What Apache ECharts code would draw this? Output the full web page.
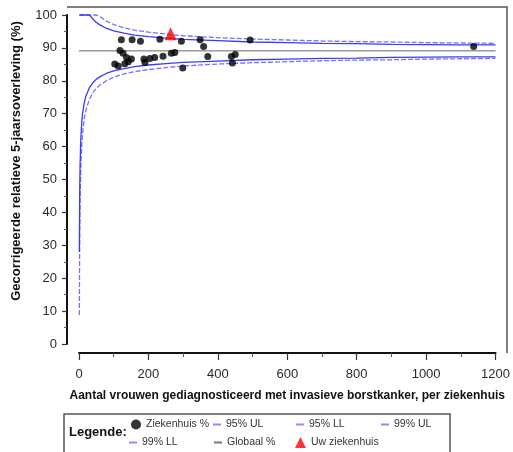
<!DOCTYPE html>
<html>
<head>
<meta charset="utf-8">
<script src="https://cdn.jsdelivr.net/npm/echarts@6/dist/echarts.min.js"></script>
<style>
html,body{margin:0;padding:0;background:#fff;}
#c{width:513px;height:452px;}
</style>
</head>
<body>
<div id="c"></div>
<script>
// ---- data ----
const xRange = [0, 1200];
const xStep = 200;
const yRange = [0, 100];
const yStep = 10;

const limitN = [1,2,3,5,8,10,15,20,30,40,50,60,80,100,130,160,200,250,300,400,500,600,700,800,900,1000,1100,1200];
const ul95 = [100,100,100,100,100,100,100,100,100,98.8,97.7,97.0,95.9,95.2,94.5,93.9,93.4,93.0,92.6,92.2,91.8,91.6,91.4,91.3,91.1,91.0,90.9,90.9];
const ul99 = [100,100,100,100,100,100,100,100,100,100,100,99.5,98.1,97.1,96.1,95.4,94.8,94.2,93.7,93.1,92.7,92.4,92.1,91.9,91.8,91.6,91.5,91.4];
const ll95 = [28.0,45.9,53.8,61.8,67.5,69.8,73.3,75.4,77.9,79.4,80.5,81.2,82.3,83.0,83.7,84.3,84.8,85.2,85.6,86.0,86.4,86.6,86.8,86.9,87.1,87.2,87.3,87.3];
const ll99 = [8.8,32.4,42.8,53.2,60.7,63.7,68.4,71.1,74.4,76.4,77.7,78.7,80.1,81.1,82.1,82.8,83.4,84.0,84.5,85.1,85.5,85.8,86.1,86.3,86.4,86.6,86.7,86.8];

const globalN = [0, 1200];
const globalV = [89.1, 89.1];

const hospN = [103,113,118,122,127,132,137,142,151,153,177,187,190,204,218,233,242,266,276,295,299,349,359,371,439,450,442,493,1137];
const hospV = [85.1,84.5,89.2,92.5,88.4,85.2,87.1,85.8,86.6,92.5,92.0,86.6,85.6,86.8,87.1,92.6,87.5,88.4,88.6,92.0,83.9,92.5,90.4,87.4,87.4,88.0,85.4,92.4,90.4];

const ownN = [264];
const ownV = [94.3];

// ---- build ----
const zip = (a, b) => a.map((v, i) => [v, b[i]]);
const FONT = 'Liberation Sans, Arial, sans-serif';
const blue95 = '#3a3aff';
const blue99 = '#7272ff';

const chart = echarts.init(document.getElementById('c'), null, {renderer: 'canvas'});

function lineSeries(name, data, color, type, width) {
  return {
    name, type: 'line', data, showSymbol: false, symbol: 'none', silent: true, clip: false,
    lineStyle: {color, type, width}, itemStyle: {color}, animation: false, z: 2
  };
}

function legendAt(name, left, top, icon, color, w, h) {
  return {
    data: [{name, icon, itemStyle: {color}}],
    left, top, padding: 0, itemWidth: w, itemHeight: h,
    textStyle: {fontFamily: FONT, fontSize: 10.5, color: '#333'},
    selectedMode: false
  };
}

const option = {
  backgroundColor: '#fff',
  animation: false,
  grid: {left: 79, top: 15, right: 16, bottom: 108, show: false, containLabel: false},
  xAxis: {
    type: 'value', min: xRange[0], max: xRange[1], interval: xStep, offset: 9,
    axisLine: {show: true, onZero: false, lineStyle: {color: '#111', width: 2}},
    axisTick: {show: true, length: 7, lineStyle: {color: '#333', width: 1.2}},
    minorTick: {show: true, splitNumber: 2, length: 4, lineStyle: {color: '#555', width: 1}},
    axisLabel: {margin: 15, fontFamily: FONT, fontSize: 13, color: '#2a2a2a', formatter: v => String(v)},
    splitLine: {show: false},
    name: 'Aantal vrouwen gediagnosticeerd met invasieve borstkanker, per ziekenhuis',
    nameLocation: 'middle', nameGap: 37,
    nameTextStyle: {fontFamily: FONT, fontSize: 12, fontWeight: 'bold', color: '#111'}
  },
  yAxis: {
    type: 'value', min: yRange[0], max: yRange[1], interval: yStep, offset: 12,
    axisLine: {show: true, onZero: false, lineStyle: {color: '#111', width: 2}},
    axisTick: {show: true, length: 5, lineStyle: {color: '#333', width: 1.2}},
    minorTick: {show: true, splitNumber: 2, length: 3, lineStyle: {color: '#555', width: 1}},
    axisLabel: {margin: 10, fontFamily: FONT, fontSize: 13, color: '#2a2a2a'},
    splitLine: {show: false}
  },
  legend: [
    legendAt('Ziekenhuis %', 131, 419, 'circle', '#000', 10, 10),
    legendAt('95% UL', 213, 419, 'rect', '#8c8cff', 8, 2),
    legendAt('95% LL', 296, 419, 'rect', '#8c8cff', 8, 2),
    legendAt('99% UL', 381, 419, 'rect', '#8c8cff', 8, 2),
    legendAt('99% LL', 129, 437, 'rect', '#8c8cff', 8, 2),
    legendAt('Globaal %', 214, 437, 'rect', '#777', 8, 2),
    legendAt('Uw ziekenhuis', 295, 437, 'triangle', '#ff0000', 11, 11)
  ],
  graphic: [
    {type: 'polyline', shape: {points: [[67, 7], [507, 7], [507, 353]]}, style: {fill: 'none', stroke: '#555', lineWidth: 1.5}, silent: true, z: -1},
    {type: 'rect', shape: {x: 64, y: 414, width: 386, height: 42}, style: {fill: 'none', stroke: '#555', lineWidth: 1.5}, silent: true},
    {type: 'text', x: 69, y: 432, style: {text: 'Legende:', fontFamily: FONT, fontSize: 13, fontWeight: 'bold', fill: '#111', textVerticalAlign: 'middle', textAlign: 'left'}, silent: true},
    {type: 'text', x: 16, y: 161, rotation: Math.PI / 2, style: {text: 'Gecorrigeerde relatieve 5-jaarsoverleving (%)', fontFamily: FONT, fontSize: 13, fontWeight: 'bold', fill: '#111', textAlign: 'center', textVerticalAlign: 'middle'}, silent: true}
  ],
  series: [
    lineSeries('99% UL', zip(limitN, ul99), blue99, [5, 2], 1.3),
    lineSeries('99% LL', zip(limitN, ll99), blue99, [5, 2], 1.3),
    lineSeries('95% UL', zip(limitN, ul95), blue95, 'solid', 1.3),
    lineSeries('95% LL', zip(limitN, ll95), blue95, 'solid', 1.3),
    lineSeries('Globaal %', zip(globalN, globalV), '#666', 'solid', 1),
    {
      name: 'Ziekenhuis %', type: 'scatter', data: zip(hospN, hospV),
      symbol: 'circle', symbolSize: 7, itemStyle: {color: '#000'}, z: 3
    },
    {
      name: 'Uw ziekenhuis', type: 'scatter', data: zip(ownN, ownV),
      symbol: 'triangle', symbolSize: [12, 13], itemStyle: {color: '#ff0000'}, z: 4
    }
  ]
};
chart.setOption(option);
</script>
</body>
</html>
